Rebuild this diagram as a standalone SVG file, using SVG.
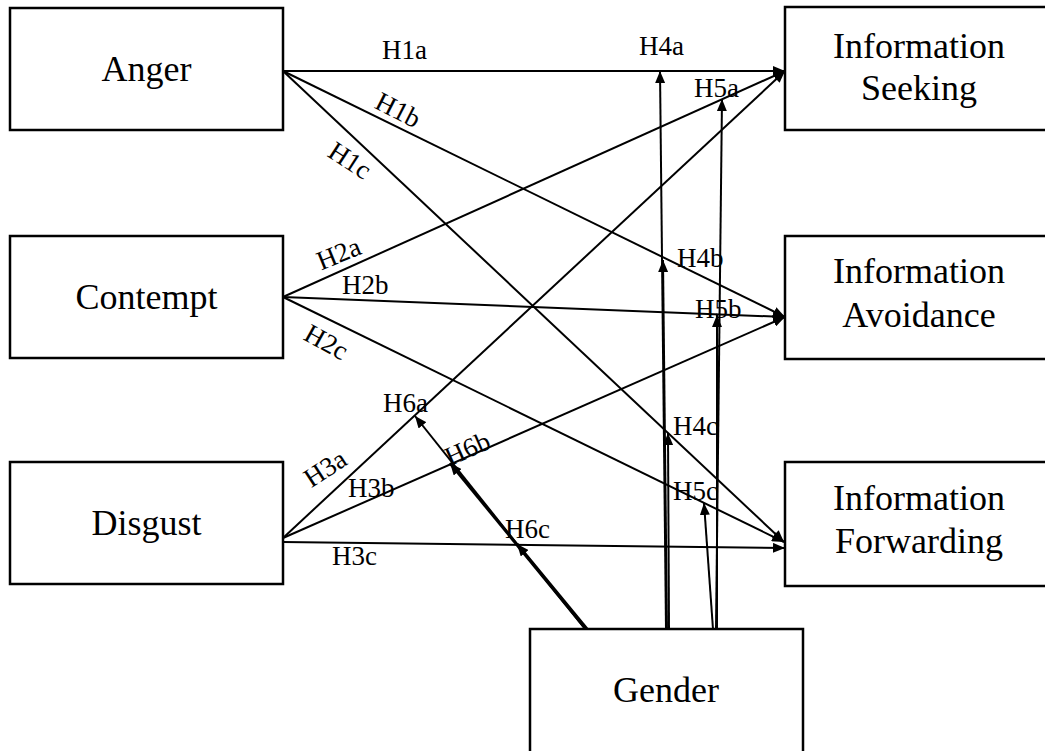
<svg xmlns="http://www.w3.org/2000/svg" width="1045" height="751" viewBox="0 0 1045 751">
<defs>
<marker id="ah" viewBox="0 0 12 10" refX="12" refY="5" markerWidth="12" markerHeight="10" markerUnits="userSpaceOnUse" orient="auto">
<path d="M0,0 L12,5 L0,10 z" fill="#000"/>
</marker>
<style>
.box{fill:#fff;stroke:#000;stroke-width:2.5}
.nt{font-family:"Liberation Serif","Times New Roman",serif;font-size:36px;fill:#000;text-anchor:middle}
.lb{font-family:"Liberation Serif","Times New Roman",serif;font-size:27px;fill:#000}
.c{stroke:#000;stroke-width:2;fill:none;marker-end:url(#ah)}
.ct{stroke:#000;stroke-width:3;fill:none;marker-end:url(#ah)}
</style>
</defs>
<rect width="1045" height="751" fill="#fff"/>
<g id="anger"><rect class="box" x="10" y="8" width="273" height="122"/><text class="nt" x="146.5" y="81">Anger</text></g>
<g id="contempt"><rect class="box" x="10" y="236" width="273" height="122"/><text class="nt" x="146.5" y="309">Contempt</text></g>
<g id="disgust"><rect class="box" x="10" y="462" width="273" height="122"/><text class="nt" x="146.5" y="535">Disgust</text></g>
<g id="seeking"><rect class="box" x="785" y="7" width="270" height="123"/><text class="nt" x="919" y="58">Information</text><text class="nt" x="919" y="100">Seeking</text></g>
<g id="avoidance"><rect class="box" x="785" y="236" width="270" height="123"/><text class="nt" x="919" y="283">Information</text><text class="nt" x="919" y="327">Avoidance</text></g>
<g id="forwarding"><rect class="box" x="785" y="462" width="270" height="124"/><text class="nt" x="919" y="510">Information</text><text class="nt" x="919" y="553">Forwarding</text></g>
<g id="gender"><rect class="box" x="530" y="629" width="273" height="130"/><text class="nt" x="666" y="702">Gender</text></g>
<g id="connectors">
<line class="c" x1="283" y1="71" x2="785" y2="71"/>
<line class="c" x1="283" y1="71" x2="785" y2="317"/>
<line class="c" x1="283" y1="71" x2="784" y2="542"/>
<line class="c" x1="283" y1="297" x2="785" y2="71"/>
<line class="c" x1="283" y1="297" x2="785" y2="317"/>
<line class="c" x1="283" y1="297" x2="784" y2="542"/>
<line class="c" x1="283" y1="538" x2="785" y2="71"/>
<line class="c" x1="283" y1="538" x2="785" y2="317"/>
<line class="c" x1="283" y1="542" x2="785" y2="548"/>
<line class="c" x1="666" y1="629" x2="660" y2="71"/>
<line class="c" x1="667" y1="629" x2="663" y2="260"/>
<line class="c" x1="669" y1="629" x2="668" y2="433"/>
<line class="c" x1="716" y1="629" x2="722" y2="99"/>
<line class="c" x1="717" y1="629" x2="717" y2="315"/>
<line class="c" x1="713" y1="629" x2="704" y2="503"/>
<line class="c" x1="585" y1="629" x2="415" y2="416"/>
<line class="ct" x1="586" y1="629" x2="450" y2="463"/>
<line class="ct" x1="587" y1="629" x2="517" y2="544"/>
</g>
<g id="labels">
<text class="lb" x="382" y="59">H1a</text>
<text class="lb" text-anchor="middle" transform="translate(394,118) rotate(27)">H1b</text>
<text class="lb" text-anchor="middle" transform="translate(345,168) rotate(33)">H1c</text>
<text class="lb" text-anchor="middle" transform="translate(342,262) rotate(-22)">H2a</text>
<text class="lb" x="342" y="294">H2b</text>
<text class="lb" text-anchor="middle" transform="translate(322,350) rotate(29)">H2c</text>
<text class="lb" text-anchor="middle" transform="translate(330,476) rotate(-33)">H3a</text>
<text class="lb" x="348" y="497">H3b</text>
<text class="lb" x="332" y="565">H3c</text>
<text class="lb" x="639" y="55">H4a</text>
<text class="lb" x="694" y="97">H5a</text>
<text class="lb" x="677" y="267">H4b</text>
<text class="lb" x="695" y="318">H5b</text>
<text class="lb" x="673" y="435">H4c</text>
<text class="lb" x="673" y="500">H5c</text>
<text class="lb" x="383" y="412">H6a</text>
<text class="lb" text-anchor="middle" transform="translate(471,457) rotate(-24)">H6b</text>
<text class="lb" x="505" y="538">H6c</text>
</g>
</svg>
